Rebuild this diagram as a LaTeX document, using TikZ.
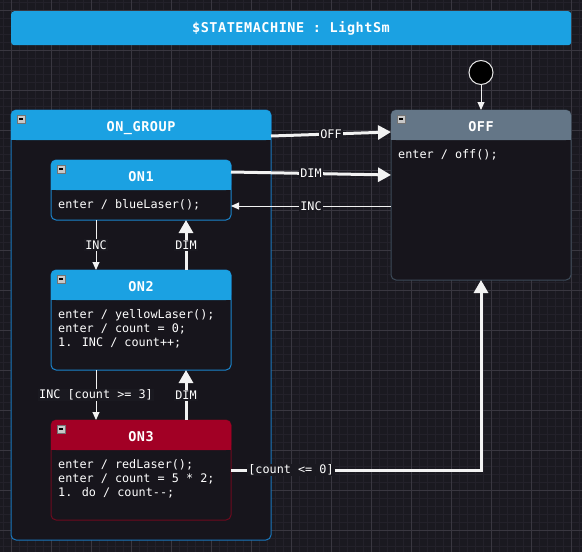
\documentclass[tikz,border=0pt]{standalone}
\usepackage{fontspec}
\usetikzlibrary{arrows.meta,calc}
\newfontfamily\bodyfont{DejaVu Sans Mono}
\newfontfamily\hdrfont[LetterSpace=4]{DejaVu Sans Mono}
\definecolor{canvas}{HTML}{1A1920}
\definecolor{gridminor}{HTML}{23212A}
\definecolor{gridmajor}{HTML}{393740}
\definecolor{bodybg}{HTML}{17151C}
\definecolor{smblue}{HTML}{1BA1E2}
\definecolor{blueborder}{HTML}{1B84CC}
\definecolor{groupborder}{HTML}{1A78BE}
\definecolor{smred}{HTML}{A20025}
\definecolor{redborder}{HTML}{6E0A1E}
\definecolor{smgray}{HTML}{647687}
\definecolor{grayborder}{HTML}{3C4A58}
\definecolor{wire}{HTML}{F2F2F2}
\tikzset{
  statebox/.style={anchor=north west, inner sep=0pt, outer sep=0pt, rounded corners=5pt, fill=bodybg, line width=1pt},
  hdrtext/.style={anchor=base, text=white, font=\hdrfont\bfseries\fontsize{13.5}{15}\selectfont, inner sep=0pt},
  bodytext/.style={anchor=base west, text=white, font=\bodyfont\fontsize{11.8}{14}\selectfont, inner sep=0pt},
  edgelabel/.style={fill=canvas, text=white, font=\bodyfont\fontsize{11.8}{14}\selectfont, inner sep=1.2pt},
  thickwire/.style={draw=wire, line width=3pt, -{Triangle[length=13pt,width=14pt]}},
  thinwire/.style={draw=wire, line width=1pt, -{Triangle[length=8pt,width=7pt]}},
  icon/.style={fill=black!22, draw=black!55, line width=0.6pt},
  minorline/.style={draw=gridminor, line width=0.6pt},
  majorline/.style={draw=gridmajor, line width=0.8pt},
}
\newcommand\stateheader[2]{%
  \fill[#2, rounded corners=5pt] (#1.north west) rectangle ($(#1.north east)+(0,30)$);
  \fill[#2] ($(#1.north west)+(0,20)$) rectangle ($(#1.north east)+(0,30)$);
  \filldraw[icon] ($(#1.north west)+(6,5)$) rectangle ++(8,8);
  \draw[black, line width=1.2pt] ($(#1.north west)+(8,9)$) -- ++(4,0);
}
\begin{document}
\begin{tikzpicture}[x=1pt,y=-1pt]
\useasboundingbox (0,0) rectangle (582,552);
\fill[canvas] (0,0) rectangle (582,552);
\foreach \x in {3,11,...,579} \draw[minorline] (\x,0) -- (\x,552);
\foreach \y in {2,10,...,546} \draw[minorline] (0,\y) -- (582,\y);
\foreach \x in {11,51,...,571} \draw[majorline] (\x,0) -- (\x,552);
\foreach \y in {10,50,...,530} \draw[majorline] (0,\y) -- (582,\y);

% title
\node[anchor=north west, minimum width=560pt, minimum height=34pt, fill=smblue, rounded corners=3pt, inner sep=0pt] (title) at (11,11) {};
\node[hdrtext] (titletext) at (291,32) {\$STATEMACHINE : LightSm};

% ON_GROUP
\node[statebox, draw=groupborder, minimum width=260pt, minimum height=430pt] (ongroup) at (11,110) {};
\stateheader{ongroup}{smblue}
\node[hdrtext] (ongroupname) at (141,131) {ON\_GROUP};

% OFF
\node[statebox, draw=grayborder, minimum width=180pt, minimum height=170pt] (off) at (391,110) {};
\stateheader{off}{smgray}
\node[hdrtext] (offname) at (481,131) {OFF};
\node[bodytext] (offl1) at (398,158) {enter / off();};

% ON1
\node[statebox, draw=blueborder, minimum width=180pt, minimum height=60pt] (on1) at (51,160) {};
\stateheader{on1}{smblue}
\node[hdrtext] (on1name) at (141,181) {ON1};
\node[bodytext] (on1l1) at (58,208) {enter / blueLaser();};

% ON2
\node[statebox, draw=blueborder, minimum width=180pt, minimum height=100pt] (on2) at (51,270) {};
\stateheader{on2}{smblue}
\node[hdrtext] (on2name) at (141,291) {ON2};
\node[bodytext] (on2l1) at (58,318) {enter / yellowLaser();};
\node[bodytext] (on2l2) at (58,332) {enter / count = 0;};
\node[bodytext] (on2l3) at (58,346) {1. INC / count++;};

% ON3
\node[statebox, draw=redborder, minimum width=180pt, minimum height=100pt] (on3) at (51,420) {};
\stateheader{on3}{smred}
\node[hdrtext] (on3name) at (141,441) {ON3};
\node[bodytext] (on3l1) at (58,468) {enter / redLaser();};
\node[bodytext] (on3l2) at (58,482) {enter / count = 5 * 2;};
\node[bodytext] (on3l3) at (58,496) {1. do / count-{}-;};

% initial
\node[circle, fill=black, draw=white!90!black, line width=1pt, minimum size=24pt, inner sep=0pt] (init) at (481,72.5) {};
\draw[thinwire] (init) -- (off);

% transitions
\draw[thickwire] ($(ongroup.north east)+(0,26)$) -- node[edgelabel] (lbloff) {OFF} ($(off.north west)+(0,22)$);
\draw[thickwire] ($(on1.north east)+(0,12)$) -- node[edgelabel] (lbldim1) {DIM} ($(off.north west)+(0,65)$);
\draw[thinwire] ($(off.north west)+(0,96)$) -- node[edgelabel] (lblinc1) {INC} ($(on1.north east)+(0,46)$);
\draw[thinwire] ($(on1.south west)+(45,0)$) -- node[edgelabel] (lblinc2) {INC} ($(on2.north west)+(45,0)$);
\draw[thickwire] ($(on2.north west)+(135,0)$) -- node[edgelabel] (lbldim2) {DIM} ($(on1.south west)+(135,0)$);
\draw[thinwire] ($(on2.south west)+(45,0)$) -- node[edgelabel] (lblinc3) {INC [count >= 3]} ($(on3.north west)+(45,0)$);
\draw[thickwire] ($(on3.north west)+(135,0)$) -- node[edgelabel] (lbldim3) {DIM} ($(on2.south west)+(135,0)$);
\draw[thickwire] ($(on3.north east)+(0,50)$) -| node[edgelabel, pos=0.12] (lblcount) {[count <= 0]} ($(off.south west)+(90,0)$);
\end{tikzpicture}
\end{document}
